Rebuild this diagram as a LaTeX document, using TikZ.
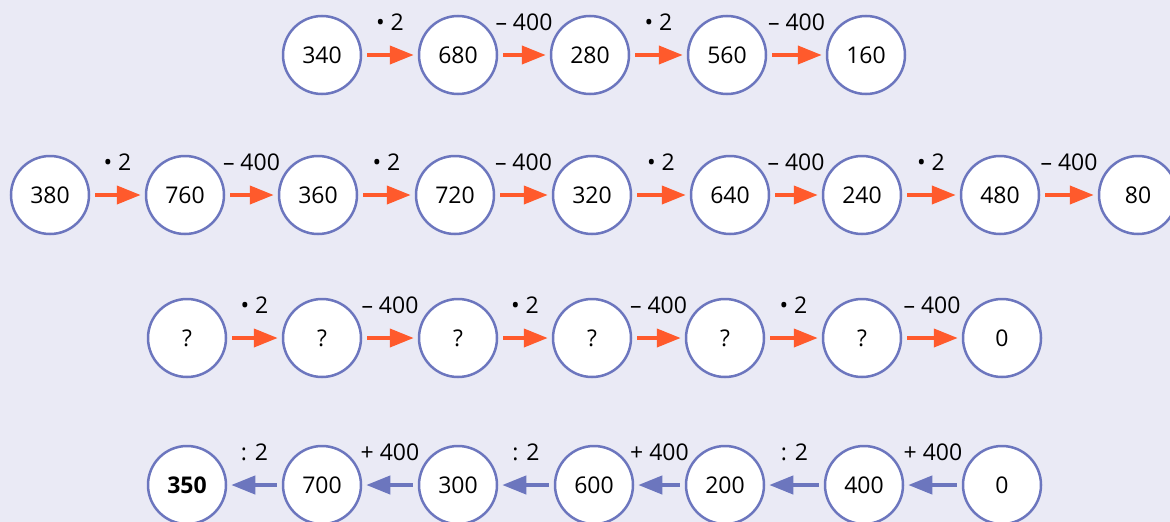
\documentclass[tikz,border=0pt]{standalone}
\usepackage{fontspec}
\setmainfont{Open Sans}
\usetikzlibrary{arrows.meta}
\definecolor{bg}{HTML}{EAEAF5}
\definecolor{ring}{HTML}{6C76BE}
\definecolor{orng}{HTML}{FF5A2C}
\definecolor{blu}{HTML}{6C76BE}
\tikzset{
  num/.style={circle,draw=ring,fill=white,line width=2.5pt,minimum size=78pt,inner sep=0pt,font=\fontsize{23}{27}\selectfont,text height=17pt,text depth=-4pt},
  fwd/.style={draw=orng,line width=4pt,-{Triangle[length=24pt,width=18pt]},shorten <=5pt,shorten >=4pt},
  bwd/.style={draw=blu,line width=4pt,-{Triangle[length=24pt,width=18pt]},shorten <=5pt,shorten >=4pt},
  op/.style={font=\fontsize{23}{27}\selectfont,inner sep=0pt,yshift=33pt}
}
\begin{document}
\begin{tikzpicture}[x=1pt,y=-1pt]
\useasboundingbox (0,0) rectangle (1170,522);
\fill[bg] (0,0) rectangle (1170,522);
\clip (0,0) rectangle (1170,522);
% row 1
\foreach \x/\t [count=\i] in {322/340,458/680,590/280,727/560,866/160}
  \node[num] (a\i) at (\x,55) {\t};
\draw[fwd] (a1) -- node[op]{• 2} (a2);
\draw[fwd] (a2) -- node[op]{– 400} (a3);
\draw[fwd] (a3) -- node[op]{• 2} (a4);
\draw[fwd] (a4) -- node[op]{– 400} (a5);
% row 2
\foreach \x/\t [count=\i] in {50/380,185/760,318/360,455/720,592/320,730/640,862/240,1000/480,1138/80}
  \node[num] (b\i) at (\x,195) {\t};
\draw[fwd] (b1) -- node[op]{• 2} (b2);
\draw[fwd] (b2) -- node[op]{– 400} (b3);
\draw[fwd] (b3) -- node[op]{• 2} (b4);
\draw[fwd] (b4) -- node[op]{– 400} (b5);
\draw[fwd] (b5) -- node[op]{• 2} (b6);
\draw[fwd] (b6) -- node[op]{– 400} (b7);
\draw[fwd] (b7) -- node[op]{• 2} (b8);
\draw[fwd] (b8) -- node[op]{– 400} (b9);
% row 3
\foreach \x/\t [count=\i] in {187/?,322/?,458/?,592/?,725/?,862/?,1002/0}
  \node[num] (c\i) at (\x,338) {\t};
\draw[fwd] (c1) -- node[op]{• 2} (c2);
\draw[fwd] (c2) -- node[op]{– 400} (c3);
\draw[fwd] (c3) -- node[op]{• 2} (c4);
\draw[fwd] (c4) -- node[op]{– 400} (c5);
\draw[fwd] (c5) -- node[op]{• 2} (c6);
\draw[fwd] (c6) -- node[op]{– 400} (c7);
% row 4
\foreach \x/\t [count=\i] in {187/\textbf{350},322/700,458/300,594/600,725/200,864/400,1002/0}
  \node[num] (d\i) at (\x,485) {\t};
\draw[bwd] (d2) -- node[op]{: 2} (d1);
\draw[bwd] (d3) -- node[op]{+ 400} (d2);
\draw[bwd] (d4) -- node[op]{: 2} (d3);
\draw[bwd] (d5) -- node[op]{+ 400} (d4);
\draw[bwd] (d6) -- node[op]{: 2} (d5);
\draw[bwd] (d7) -- node[op]{+ 400} (d6);
\end{tikzpicture}
\end{document}
